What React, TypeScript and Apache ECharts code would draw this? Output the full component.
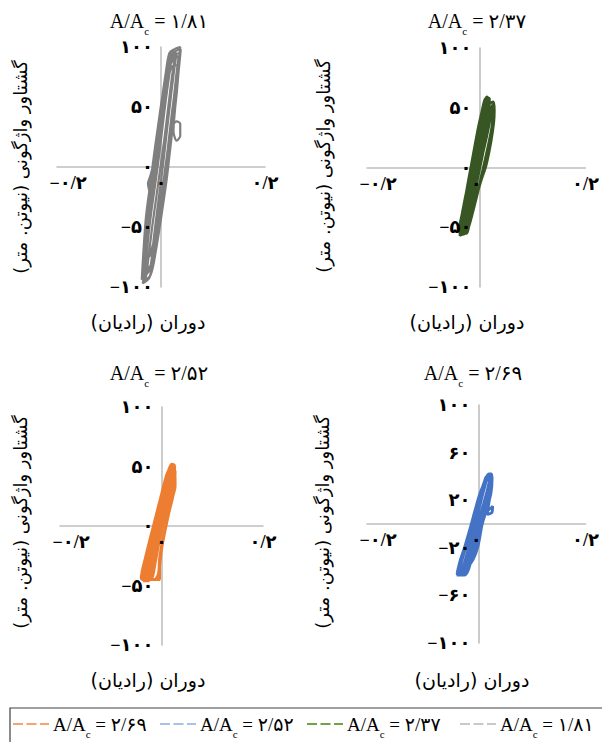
import React, { useEffect, useRef } from 'react';
import * as echarts from 'echarts';

// ---------- data ----------
const caseNames = ['۱/۸۱', '۲/۳۷', '۲/۵۲', '۲/۶۹'];
const caseColors = ['#7f7f7f', '#375623', '#ed7d31', '#4472c4'];
const legendOrder = ['۲/۶۹', '۲/۵۲', '۲/۳۷', '۱/۸۱'];
const legendColors = ['#f4a56d', '#a9c1ea', '#70a24a', '#c9c9c9'];
const yTickSteps = [50, 50, 50, 40];
const xTickStep = 0.2;
const xRange = [-0.2, 0.2];
const yRange = [-100, 100];
const xName = 'دوران (رادیان)';
const yName = 'گشتاور واژگونی (نیوتن. متر)';

// rotation (rad), overturning moment (N.m)
const loop181 = [
  [-0.036, -96], [-0.020, -90], [-0.010, -70], [0.001, -40], [0.011, -10], [0.019, 20], [0.027, 50], [0.034, 80], [0.038, 98],
  [0.030, 97], [0.017, 93], [0.011, 80], [0.001, 50], [-0.010, 20], [-0.019, -10], [-0.027, -40], [-0.033, -70], [-0.036, -92],
  [-0.033, -88], [-0.017, -80], [-0.010, -60], [-0.003, -40], [0.006, -10], [0.015, 20], [0.023, 50], [0.029, 75], [0.034, 92],
  [0.024, 90], [0.015, 80], [0.005, 50], [-0.006, 20], [-0.015, -10], [-0.023, -40], [-0.028, -62], [-0.031, -82],
  [-0.035, -97], [-0.022, -92], [-0.013, -70], [-0.002, -40], [0.008, -12], [0.017, 18], [0.025, 48], [0.032, 78], [0.036, 96], [0.037, 100],
  [0.025, 98], [0.016, 95], [0.009, 78], [-0.001, 48], [-0.011, 18], [-0.020, -12], [-0.029, -42], [-0.034, -72], [-0.037, -94],
  [-0.031, -80], [-0.016, -70], [-0.006, -45], [0.004, -15], [0.013, 15], [0.021, 45], [0.029, 72], [0.033, 85],
  [0.022, 84], [0.013, 72], [0.005, 45], [-0.005, 15], [-0.014, -15], [-0.023, -45], [-0.029, -72],
  [-0.032, -85], [-0.014, -62], [-0.002, -30], [0.009, 0], [0.017, 22], [0.022, 34], [0.030, 38], [0.037, 36], [0.037, 26], [0.030, 22],
  [0.024, 30], [0.027, 48], [0.031, 65], [0.035, 90], [0.028, 93], [0.015, 87], [0.006, 58], [-0.004, 28], [-0.013, 0], [-0.022, -30], [-0.030, -62], [-0.034, -85],
  [-0.034, -92], [-0.019, -84], [-0.008, -55], [0.003, -25], [0.012, 5], [0.020, 35], [0.028, 65], [0.035, 90], [0.036, 95],
  [0.027, 94], [0.019, 93], [0.013, 85], [0.003, 60], [-0.007, 30], [-0.016, 0], [-0.021, -8], [-0.025, -14], [-0.022, -22], [-0.028, -50], [-0.035, -86],
  [-0.030, -90], [-0.020, -82], [-0.014, -60], [-0.007, -35], [0.002, -5], [0.010, 25], [0.018, 55], [0.025, 80], [0.030, 95],
  [0.022, 93], [0.014, 80], [0.008, 55], [0.000, 25], [-0.009, -5], [-0.018, -35], [-0.025, -60], [-0.031, -85],
  [-0.030, -94], [-0.024, -75], [-0.017, -50], [-0.009, -25], [-0.001, 0], [0.007, 25], [0.014, 50], [0.021, 75], [0.027, 95],
  [0.023, 96], [0.017, 80], [0.009, 55], [0.002, 30], [-0.005, 5], [-0.013, -20], [-0.021, -45], [-0.027, -70], [-0.032, -92],
];

const loop237 = [
  [-0.030, -55], [-0.020, -52], [-0.012, -38], [-0.001, -15], [0.009, 8], [0.016, 28], [0.022, 45], [0.023, 57], [0.019, 59],
  [0.015, 52], [0.007, 40], [-0.001, 22], [-0.009, 2], [-0.017, -18], [-0.024, -38], [-0.029, -50],
  [-0.026, -50], [-0.018, -30], [-0.010, -10], [-0.002, 8], [0.007, 25], [0.015, 42], [0.024, 53], [0.031, 55], [0.033, 48],
  [0.032, 38], [0.027, 22], [0.018, 2], [0.008, -12], [-0.002, -28], [-0.012, -45], [-0.018, -55],
  [-0.029, -54], [-0.021, -50], [-0.014, -35], [-0.004, -13], [0.006, 10], [0.013, 30], [0.019, 48], [0.021, 56],
  [0.016, 55], [0.010, 46], [0.003, 30], [-0.005, 12], [-0.012, -8], [-0.019, -28], [-0.026, -47],
  [-0.027, -50], [-0.016, -46], [-0.008, -30], [0.001, -8], [0.010, 14], [0.017, 34], [0.022, 50], [0.025, 55],
  [0.020, 55], [0.012, 46], [0.004, 30], [-0.004, 10], [-0.011, -8], [-0.019, -27], [-0.026, -45],
  [-0.030, -57], [-0.019, -52], [-0.009, -33], [0.000, -12], [0.010, 8], [0.019, 26], [0.026, 42], [0.029, 52], [0.030, 50],
  [0.030, 40], [0.025, 25], [0.017, 8], [0.010, -6], [0.002, -22], [-0.008, -40], [-0.016, -52], [-0.024, -56],
  [-0.031, -52], [-0.022, -48], [-0.013, -30], [-0.003, -10], [0.007, 12], [0.014, 32], [0.018, 50], [0.020, 58],
  [0.016, 57], [0.011, 48], [0.004, 32], [-0.004, 12], [-0.011, -5], [-0.020, -25], [-0.028, -44], [-0.031, -52],
  [-0.028, -56], [-0.015, -50], [-0.006, -30], [0.003, -8], [0.012, 12], [0.018, 30], [0.023, 46], [0.024, 58],
  [0.018, 58], [0.009, 44], [0.001, 26], [-0.007, 6], [-0.014, -12], [-0.022, -32], [-0.030, -50],
  [-0.027, -55], [-0.020, -45], [-0.013, -30], [-0.005, -12], [0.003, 4], [0.009, 20], [0.015, 38], [0.020, 54],
  [0.017, 55], [0.012, 42], [0.006, 24], [-0.001, 6], [-0.008, -10], [-0.015, -28], [-0.022, -45], [-0.026, -54],
  [-0.024, -52], [-0.016, -40], [-0.008, -22], [0.001, -4], [0.008, 12], [0.014, 28], [0.019, 44], [0.022, 52],
  [0.019, 52], [0.014, 40], [0.008, 24], [0.001, 8], [-0.007, -10], [-0.015, -30], [-0.022, -48],
];

const loop252 = [
  [-0.039, -44], [-0.030, -40], [-0.020, -22], [-0.008, 0], [0.004, 20], [0.014, 36], [0.022, 48], [0.026, 52],
  [0.022, 50], [0.014, 42], [0.004, 25], [-0.008, 8], [-0.018, -8], [-0.028, -25], [-0.037, -42],
  [-0.034, -45], [-0.022, -38], [-0.012, -18], [-0.002, 2], [0.008, 20], [0.017, 34], [0.024, 45], [0.025, 48],
  [0.018, 46], [0.010, 36], [0.000, 18], [-0.012, 0], [-0.022, -16], [-0.031, -35], [-0.036, -44],
  [-0.040, -42], [-0.030, -38], [-0.018, -20], [-0.006, -2], [0.006, 16], [0.016, 30], [0.025, 42], [0.026, 50],
  [0.020, 52], [0.012, 44], [0.002, 28], [-0.009, 10], [-0.019, -8], [-0.029, -26], [-0.038, -40],
  [-0.030, -46], [-0.020, -40], [-0.010, -22], [0.000, -4], [0.010, 14], [0.019, 28], [0.026, 40], [0.027, 46],
  [0.020, 46], [0.012, 38], [0.002, 20], [-0.009, 2], [-0.019, -16], [-0.027, -32], [-0.033, -44],
  [-0.014, -45], [-0.006, -40], [-0.004, -28], [0.002, -12], [0.010, 4], [0.018, 18], [0.025, 32], [0.027, 40],
  [0.022, 42], [0.014, 34], [0.006, 20], [-0.005, 2], [-0.015, -16], [-0.025, -34], [-0.031, -46],
  [-0.036, -46], [-0.026, -42], [-0.015, -25], [-0.004, -6], [0.007, 12], [0.017, 28], [0.023, 40], [0.025, 50],
  [0.019, 49], [0.010, 40], [0.001, 24], [-0.010, 6], [-0.020, -12], [-0.030, -30], [-0.038, -44],
  [-0.008, -45], [-0.004, -35], [0.000, -20], [0.006, -6], [0.014, 10], [0.022, 24], [0.027, 36], [0.026, 44],
  [0.020, 44], [0.012, 36], [0.004, 22], [-0.007, 4], [-0.017, -14], [-0.026, -30], [-0.034, -44],
  [-0.040, -44], [-0.004, -45], [-0.003, -27], [0.009, 0], [0.019, 20], [0.027, 34], [0.026, 51],
  [0.020, 50], [0.012, 45], [0.008, 40], [-0.004, 20], [-0.016, 0], [-0.029, -22], [-0.040, -44],
  [-0.025, -46], [-0.018, -34], [-0.010, -16], [-0.002, 0], [0.006, 14], [0.013, 28], [0.019, 42], [0.023, 50],
  [0.019, 48], [0.012, 36], [0.004, 20], [-0.004, 4], [-0.012, -12], [-0.020, -28], [-0.028, -44],
  [-0.020, -44], [-0.012, -30], [-0.005, -14], [0.003, 2], [0.011, 18], [0.017, 32], [0.022, 44], [0.020, 46],
  [0.015, 40], [0.008, 26], [0.000, 10], [-0.008, -6], [-0.016, -22], [-0.024, -38], [-0.030, -46],
];

const loop269 = [
  [-0.036, -43], [-0.024, -41], [-0.006, -30], [0.003, -19], [0.011, 0], [0.019, 12], [0.027, 26], [0.029, 38], [0.027, 42],
  [0.020, 40], [0.016, 36], [0.007, 26], [-0.002, 12], [-0.009, 0], [-0.021, -19], [-0.029, -30], [-0.035, -41],
  [-0.034, -40], [-0.018, -38], [-0.008, -28], [0.002, -14], [0.010, 2], [0.018, 10], [0.026, 13], [0.030, 15], [0.029, 10], [0.020, 8],
  [0.024, 20], [0.028, 32], [0.028, 40], [0.021, 41], [0.013, 32], [0.004, 18], [-0.006, 2], [-0.017, -14], [-0.027, -30], [-0.034, -40],
  [-0.030, -42], [-0.016, -38], [-0.004, -22], [0.006, -6], [0.014, 6], [0.022, 20], [0.027, 32], [0.027, 41],
  [0.021, 40], [0.011, 28], [0.002, 14], [-0.006, -2], [-0.018, -18], [-0.027, -32], [-0.033, -42],
  [-0.035, -42], [-0.022, -39], [-0.010, -25], [0.001, -8], [0.010, 6], [0.018, 18], [0.025, 30], [0.027, 38],
  [0.019, 38], [0.009, 26], [-0.001, 12], [-0.011, -4], [-0.021, -20], [-0.030, -34], [-0.035, -42],
  [-0.022, -43], [-0.014, -38], [-0.004, -20], [0.006, -4], [0.015, 10], [0.023, 22], [0.028, 34], [0.028, 42],
  [0.023, 42], [0.014, 34], [0.004, 20], [-0.006, 4], [-0.015, -12], [-0.025, -28], [-0.032, -40],
  [-0.033, -38], [-0.020, -35], [-0.008, -20], [0.003, -4], [0.013, 10], [0.020, 22], [0.026, 34], [0.024, 40],
  [0.017, 38], [0.008, 26], [-0.003, 10], [-0.012, -6], [-0.022, -22], [-0.030, -36],
  [-0.028, -43], [-0.014, -36], [-0.002, -18], [0.008, -2], [0.016, 12], [0.023, 24], [0.028, 36], [0.026, 40],
  [0.019, 40], [0.012, 30], [0.002, 16], [-0.008, 0], [-0.019, -18], [-0.029, -34], [-0.034, -43],
  [-0.032, -43], [-0.020, -34], [-0.012, -22], [-0.002, -6], [0.006, 6], [0.014, 18], [0.021, 30], [0.025, 40],
  [0.022, 41], [0.016, 32], [0.008, 18], [0.000, 4], [-0.008, -10], [-0.016, -24], [-0.025, -38],
  [-0.028, -40], [-0.016, -30], [-0.006, -16], [0.003, -2], [0.010, 10], [0.017, 22], [0.023, 32], [0.025, 38],
  [0.018, 36], [0.010, 22], [0.002, 8], [-0.005, -4], [-0.014, -20], [-0.024, -36], [-0.030, -43],
];

const loops = [loop181, loop237, loop252, loop269];

// ---------- helpers ----------
const faDigits = '۰۱۲۳۴۵۶۷۸۹';
function toFa(v: number): string {
  const r = Math.round(v * 1000) / 1000;
  const s = String(Math.abs(r)).replace(/[0-9]/g, (d) => faDigits[+d]).replace('.', '/');
  return (r < 0 ? '−' : '') + s;
}
const rtl = (s: string) => '\u200F' + s + '\u200F';

const serif = "'Liberation Serif', 'DejaVu Sans', serif";
const faFont = "'DejaVu Sans', sans-serif";

const grids = [
  { left: 57, top: 47, width: 208, height: 240 },
  { left: 367, top: 48, width: 225, height: 239 },
  { left: 60, top: 407, width: 203, height: 238 },
  { left: 367, top: 405, width: 223, height: 238 },
];
const titlePos = [[159, 21], [477, 21], [159, 373], [473, 373]];
const xNamePos = [[148, 322], [467, 322], [148, 680], [472, 680]];
const yNamePos = [[20, 167], [323, 166], [20, 522], [322, 522]];
const legendIconX = [13, 160, 307, 460];
const legendY = 724;

const subRich = {
  s: { fontSize: 11, fontFamily: serif, padding: [20, 0, 0, 0], fill: '#000', color: '#000' },
};

export default function App() {
  const ref = useRef<HTMLDivElement>(null);
  useEffect(() => {
    document.body.style.margin = '0';
    if (!ref.current) return;
    const chart = echarts.init(ref.current, undefined, { renderer: 'svg' });

    const labelStyle = { color: '#000', fontSize: 18, fontWeight: 'bold', fontFamily: serif };

    const graphics: any[] = [];
    caseNames.forEach((name, i) => {
      graphics.push({
        type: 'text',
        x: titlePos[i][0],
        y: titlePos[i][1],
        style: {
          text: 'A/A{s|c} = ' + name,
          font: `20px ${serif}`,
          fill: '#000',
          align: 'center',
          verticalAlign: 'middle',
          rich: subRich,
        },
      });
      graphics.push({
        type: 'text',
        x: xNamePos[i][0],
        y: xNamePos[i][1],
        style: { text: rtl(xName), font: `19px ${faFont}`, fill: '#000', align: 'center', verticalAlign: 'middle' },
      });
      graphics.push({
        type: 'text',
        x: yNamePos[i][0],
        y: yNamePos[i][1],
        rotation: Math.PI / 2,
        style: { text: rtl(yName), font: `18px ${faFont}`, fill: '#000', align: 'center', verticalAlign: 'middle' },
      });
    });

    // legend (drawn as graphics so that its colours can differ from the series)
    graphics.push({
      type: 'rect',
      shape: { x: 10, y: 708, width: 620, height: 50 },
      style: { fill: 'none', stroke: '#404040', lineWidth: 1.2 },
    });
    legendOrder.forEach((name, i) => {
      const x0 = legendIconX[i];
      graphics.push({
        type: 'line',
        shape: { x1: x0, y1: legendY, x2: x0 + 36, y2: legendY },
        style: { stroke: legendColors[i], lineWidth: 2, lineDash: [10, 3.5] },
      });
      graphics.push({
        type: 'text',
        x: x0 + 40,
        y: legendY,
        style: {
          text: 'A/A{s|c} = ' + name,
          font: `19px ${serif}`,
          fill: '#000',
          align: 'left',
          verticalAlign: 'middle',
          rich: subRich,
        },
      });
    });

    // two axis sets per grid: lines under the loops, labels above them
    const mkX = (g: any, i: number, labels: boolean) => ({
      type: 'value',
      gridIndex: i,
      position: 'bottom',
      offset: -g.height / 2,
      min: xRange[0],
      max: xRange[1],
      interval: xTickStep,
      z: labels ? 5 : 0,
      axisLine: { show: !labels, onZero: false, lineStyle: { color: '#bfbfbf', width: 1.6 } },
      axisTick: { show: false },
      splitLine: { show: false },
      axisLabel: {
        show: labels,
        ...labelStyle,
        margin: 7,
        formatter: (v: number) => (v < 0 ? '{m|' + toFa(v) + '}' : toFa(v)),
        rich: { m: { ...labelStyle, padding: [0, 0, 0, 22] } },
      },
    });
    const mkY = (g: any, i: number, labels: boolean) => ({
      type: 'value',
      gridIndex: i,
      position: 'left',
      offset: -g.width / 2,
      min: yRange[0],
      max: yRange[1],
      interval: yTickSteps[i],
      z: labels ? 5 : 0,
      axisLine: { show: !labels, onZero: false, lineStyle: { color: '#bfbfbf', width: 1.6 } },
      axisTick: { show: false },
      splitLine: { show: false },
      axisLabel: { show: labels, ...labelStyle, margin: 8, formatter: (v: number) => toFa(v) },
    });

    const option: any = {
      animation: false,
      backgroundColor: '#fff',
      grid: grids.map((g) => ({ ...g, containLabel: false })),
      xAxis: grids.map((g, i) => mkX(g, i, false)).concat(grids.map((g, i) => mkX(g, i, true))),
      yAxis: grids.map((g, i) => mkY(g, i, false)).concat(grids.map((g, i) => mkY(g, i, true))),
      graphic: graphics,
      series: caseNames.map((name, i) => ({
        name,
        type: 'line',
        xAxisIndex: i,
        yAxisIndex: i,
        data: loops[i],
        symbol: 'none',
        showSymbol: false,
        smooth: 0.3,
        z: 2,
        lineStyle: { color: caseColors[i], width: i === 0 ? 2.2 : 2.8 },
        itemStyle: { color: caseColors[i] },
      })),
    };
    chart.setOption(option);
    return () => chart.dispose();
  }, []);
  return <div ref={ref} style={{ width: 602, height: 742 }} />;
}
